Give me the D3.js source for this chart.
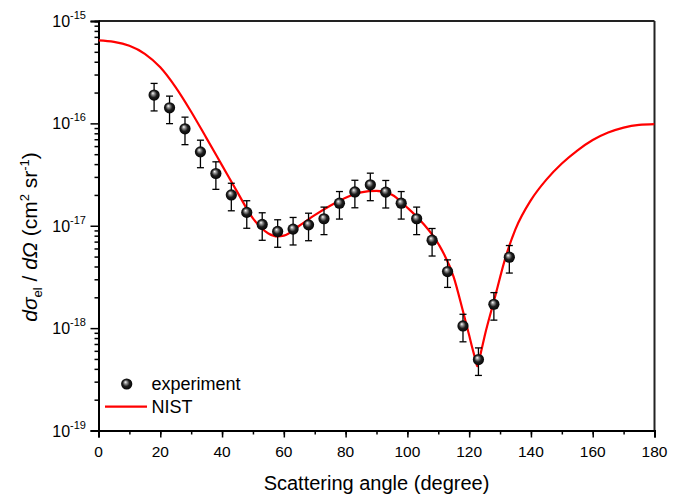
<!DOCTYPE html>
<html><head><meta charset="utf-8">
<script src="https://cdn.jsdelivr.net/npm/d3@7"></script>
<style>
html,body{margin:0;padding:0;background:#fff;}
text{font-family:"Liberation Sans",Arial,sans-serif;fill:#000;}
</style></head>
<body>
<svg id="chart" width="684" height="494"></svg>
<script>
// Experimental data
const expAngles = [18,23,28,33,38,43,48,53,58,63,68,73,78,83,88,93,98,103,108,113,118,123,128,133];
const expValues = [1.89e-16,1.42e-16,8.85e-17,5.27e-17,3.24e-17,2.0e-17,1.35e-17,1.03e-17,8.8e-18,9.27e-18,1.02e-17,1.17e-17,1.66e-17,2.14e-17,2.51e-17,2.13e-17,1.66e-17,1.17e-17,7.23e-18,3.57e-18,1.05e-18,4.93e-19,1.71e-18,4.93e-18];
const expRelErr = [0.3,0.3,0.3,0.3,0.3,0.3,0.3,0.3,0.3,0.3,0.3,0.3,0.3,0.3,0.3,0.3,0.3,0.3,0.3,0.3,0.3,0.3,0.3,0.3];
// NIST curve
const nistAngles = [0,5,10,15,20,25,30,35,40,45,50,55,58,60,65,70,75,80,85,90,95,100,105,110,115,118,120,121,122,122.6,123.2,124,125,128,132,135,140,145,150,155,160,165,170,175,180];
const nistValues = [6.47e-16,6.26e-16,5.72e-16,4.78e-16,3.53e-16,2.25e-16,1.30e-16,7.14e-17,3.89e-17,2.12e-17,1.18e-17,8.41e-18,7.86e-18,8.0e-18,1.0e-17,1.27e-17,1.57e-17,1.88e-17,2.12e-17,2.19e-17,2.01e-17,1.50e-17,1.06e-17,6.68e-18,3.15e-18,1.46e-18,8.52e-19,6.43e-19,4.97e-19,4.24e-19,4.86e-19,6.15e-19,8.33e-19,1.83e-18,5.16e-18,9.26e-18,1.78e-17,2.82e-17,4.05e-17,5.42e-17,6.87e-17,8.13e-17,9.10e-17,9.67e-17,9.84e-17];
const xTicks = [0,20,40,60,80,100,120,140,160,180];
const yTickExp = [-15,-16,-17,-18,-19];
const legendLabels = ["experiment","NIST"];

const L=98.5, R=654.5, T=21, B=430.5;
const svg = d3.select("#chart");
const x = d3.scaleLinear().domain([0,180]).range([L,R]);
const y = d3.scaleLog().domain([1e-19,1e-15]).range([B,T]);

const defs = svg.append("defs");
const g = defs.append("radialGradient").attr("id","sph").attr("cx","50%").attr("cy","50%").attr("r","55%").attr("fx","38%").attr("fy","32%");
g.append("stop").attr("offset","0%").attr("stop-color","#ffffff");
g.append("stop").attr("offset","22%").attr("stop-color","#9a9a9a");
g.append("stop").attr("offset","55%").attr("stop-color","#1e1e1e");
g.append("stop").attr("offset","100%").attr("stop-color","#000000");
defs.append("clipPath").attr("id","clip").append("rect").attr("x",L).attr("y",T).attr("width",R-L).attr("height",B-T);

// frame top & right
svg.append("line").attr("x1",L).attr("x2",R).attr("y1",T).attr("y2",T).attr("stroke","#222").attr("stroke-width",2);
svg.append("line").attr("x1",R).attr("x2",R).attr("y1",T).attr("y2",B).attr("stroke","#222").attr("stroke-width",2);

// x axis
const xMinor = d3.range(0,181,10);
const xAx = svg.append("g").attr("transform",`translate(0,${B})`);
xAx.call(d3.axisBottom(x).tickValues(xMinor).tickSize(4).tickFormat(""));
xAx.append("g").call(d3.axisBottom(x).tickValues(xTicks).tickSize(7).tickFormat(""));
xAx.selectAll(".domain").attr("stroke","#000").attr("stroke-width",2);
xAx.selectAll(".tick line").attr("stroke","#000").attr("stroke-width",1.5);
xAx.selectAll("g.lbl").data(xTicks).enter().append("text")
  .attr("x",d=>x(d)).attr("y",26.5).attr("text-anchor","middle").attr("font-size","15.5px").text(d=>d);

// y axis
const yMinor = [];
yTickExp.forEach(e=>{ if(e<-15){ for(let m=2;m<=9;m++) yMinor.push(m*Math.pow(10,e)); } });
const yAx = svg.append("g").attr("transform",`translate(${L},0)`);
yAx.call(d3.axisLeft(y).tickValues(yMinor).tickSize(4).tickFormat(""));
yAx.append("g").call(d3.axisLeft(y).tickValues(yTickExp.map(e=>Math.pow(10,e))).tickSize(8).tickFormat(""));
yAx.selectAll(".domain").attr("stroke","#000").attr("stroke-width",2);
yAx.selectAll(".tick line").attr("stroke","#000").attr("stroke-width",1.5);
const yl = svg.append("g").selectAll("text").data(yTickExp).enter().append("text")
  .attr("x",86).attr("y",e=>y(Math.pow(10,e))+6).attr("text-anchor","end").attr("font-size","16px");
yl.append("tspan").text("10");
yl.append("tspan").attr("dy",-8).attr("font-size","11px").text(e=>String(e));

// NIST curve
const line = d3.line().x(d=>x(d[0])).y(d=>y(d[1])).curve(d3.curveMonotoneX);
svg.append("path").datum(nistAngles.map((a,i)=>[a,nistValues[i]]))
  .attr("d",line).attr("fill","none").attr("stroke","#ff0000").attr("stroke-width",2.2).attr("clip-path","url(#clip)");

// error bars and points
const pts = expAngles.map((a,i)=>({a,v:expValues[i],e:expRelErr[i]*expValues[i]}));
const eb = svg.append("g").selectAll("g").data(pts).enter().append("g");
eb.append("line").attr("x1",d=>x(d.a)).attr("x2",d=>x(d.a)).attr("y1",d=>y(d.v+d.e)).attr("y2",d=>y(d.v-d.e)).attr("stroke","#000").attr("stroke-width",1.3);
eb.append("line").attr("x1",d=>x(d.a)-3.5).attr("x2",d=>x(d.a)+3.5).attr("y1",d=>y(d.v+d.e)).attr("y2",d=>y(d.v+d.e)).attr("stroke","#000").attr("stroke-width",1.3);
eb.append("line").attr("x1",d=>x(d.a)-3.5).attr("x2",d=>x(d.a)+3.5).attr("y1",d=>y(d.v-d.e)).attr("y2",d=>y(d.v-d.e)).attr("stroke","#000").attr("stroke-width",1.3);
svg.append("g").selectAll("circle").data(pts).enter().append("circle")
  .attr("cx",d=>x(d.a)).attr("cy",d=>y(d.v)).attr("r",5.6).attr("fill","url(#sph)");

// legend
svg.append("circle").attr("cx",126.7).attr("cy",384).attr("r",5.6).attr("fill","url(#sph)");
svg.append("text").attr("x",151.5).attr("y",390).attr("font-size","18px").text(legendLabels[0]);
svg.append("line").attr("x1",105).attr("x2",147).attr("y1",406.7).attr("y2",406.7).attr("stroke","#ff0000").attr("stroke-width",2.2);
svg.append("text").attr("x",151.5).attr("y",413).attr("font-size","18px").text(legendLabels[1]);

// axis titles
svg.append("text").attr("x",(L+R)/2).attr("y",490).attr("text-anchor","middle").attr("font-size","20px").text("Scattering angle (degree)");
const yt = svg.append("text").attr("transform","translate(37,237) rotate(-90)").attr("text-anchor","middle").attr("font-size","21px");
yt.append("tspan").attr("font-style","italic").text("dσ");
yt.append("tspan").attr("font-size","13px").attr("dy",5).text("el");
yt.append("tspan").attr("dy",-5).text(" / ");
yt.append("tspan").attr("font-style","italic").text("dΩ");
yt.append("tspan").text(" (cm");
yt.append("tspan").attr("font-size","13px").attr("dy",-8).text("2");
yt.append("tspan").attr("dy",8).text(" sr");
yt.append("tspan").attr("font-size","13px").attr("dy",-8).text("-1");
yt.append("tspan").attr("dy",8).text(")");
</script>
</body></html>
